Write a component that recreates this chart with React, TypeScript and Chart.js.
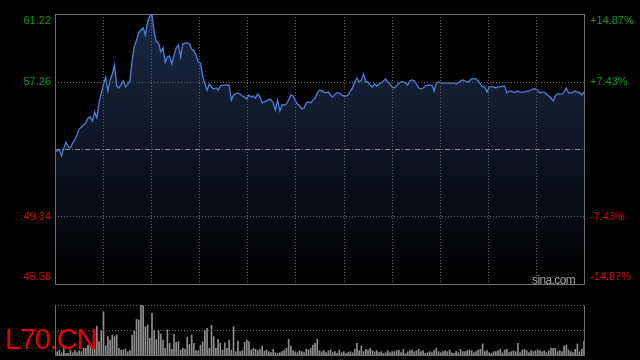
import React, { useEffect, useRef } from 'react';
import { Chart, registerables } from 'chart.js';

Chart.register(...registerables);

// ---- data ----
const PRICE_TICKS = [45.38, 49.34, 53.3, 57.26, 61.22];
const PRICE_LABELS = ['45.38', '49.34', '', '57.26', '61.22'];
const PCT_LABELS = ['-14.87%', '-7.43%', '', '+7.43%', '+14.87%'];
const PREV_CLOSE = 53.3;
const GRID_DIVISIONS = 11;
const SYMBOL = 'L70.CN';
const WATERMARK = 'sina.com';

const prices = [
  53.18, 53.18, 53.24, 52.89, 53.36, 53.71, 53.42, 53.36, 53.65, 53.83,
  54.12, 54.47, 54.59, 54.71, 54.83, 55.12, 55.18, 54.94, 55.47, 55.12,
  56.0, 56.59, 57.11, 57.52, 56.7, 57.35, 57.7, 58.23, 56.99, 56.88,
  57.11, 57.29, 56.94, 57.11, 57.29, 58.52, 59.34, 59.69, 60.11, 60.28,
  60.4, 59.99, 60.75, 61.1, 61.16, 60.16, 59.58, 59.52, 58.99, 59.23,
  58.4, 58.7, 58.76, 58.29, 58.81, 59.23, 59.4, 58.7, 59.46, 59.52,
  59.52, 59.46, 59.17, 59.05, 58.81, 58.4, 58.35, 57.58, 57.11, 56.76,
  57.11, 56.94, 56.82, 56.88, 56.76, 56.99, 57.05, 57.05, 57.05, 57.05,
  56.17, 56.47, 56.53, 56.59, 56.53, 56.41, 56.35, 56.23, 56.47, 56.35,
  56.41, 56.29, 56.53, 56.35, 56.0, 56.06, 56.12, 56.23, 56.17, 56.0,
  55.59, 56.17, 55.53, 55.88, 55.88, 55.94, 56.17, 56.47, 56.41, 56.12,
  55.94, 55.82, 55.65, 55.71, 56.0, 56.06, 56.0, 56.17, 56.29, 56.59,
  56.76, 56.7, 56.64, 56.59, 56.64, 56.47, 56.35, 56.53, 56.59, 56.59,
  56.47, 56.41, 56.41, 56.47, 56.7, 56.88, 57.23, 57.47, 57.23, 57.35,
  57.7, 57.23, 57.23, 57.05, 56.94, 57.11, 56.99, 57.11, 57.17, 57.29,
  57.41, 57.23, 57.11, 56.94, 56.88, 56.99, 57.17, 57.23, 57.23, 57.17,
  57.05, 57.29, 57.35, 57.29, 57.11, 56.88, 56.82, 56.88, 56.99, 57.05,
  57.05, 57.05, 56.7, 57.17, 57.23, 57.17, 57.17, 57.17, 57.17, 57.17,
  57.17, 57.17, 57.11, 57.17, 57.29, 57.35, 57.29, 57.23, 57.29, 57.41,
  57.41, 57.41, 57.29, 57.11, 56.94, 56.94, 56.64, 56.94, 56.94, 56.94,
  56.88, 56.94, 56.94, 56.99, 56.99, 56.59, 56.7, 56.7, 56.64, 56.64,
  56.7, 56.64, 56.64, 56.64, 56.7, 56.7, 56.76, 56.82, 56.82, 56.76,
  56.59, 56.64, 56.64, 56.53, 56.41, 56.29, 56.12, 56.41, 56.53, 56.53,
  56.53, 56.64, 56.88, 56.59, 56.59, 56.64, 56.7, 56.64, 56.59, 56.47,
  56.64,
];

const volumes = [
  500, 330, 500, 230, 830, 170, 170, 500, 230, 430, 230, 430, 330, 670, 670, 1000, 1000, 670, 670, 2900, 1330,
  2430, 4330, 930, 1830, 1500, 2000, 1830, 2000, 670, 500, 500, 600, 330, 430, 2000, 2400, 3570, 3500, 5000, 4900,
  2800, 3000, 1670, 4170, 2500, 1570, 2430, 2100, 1500, 670, 2500, 1170, 570, 2070, 1270, 1330, 500, 670, 600, 1770,
  1070, 2000, 1170, 430, 430, 1000, 1330, 2430, 2670, 670, 2970, 1830, 670, 1570, 1170, 500, 1230, 670, 1500, 500,
  2830, 330, 1400, 330, 430, 1270, 1500, 1330, 500, 670, 570, 430, 570, 900, 400, 500, 330, 230, 570, 230,
  170, 230, 330, 500, 670, 1570, 900, 430, 330, 230, 430, 330, 230, 600, 500, 670, 1000, 1170, 1570, 430,
  330, 430, 230, 430, 500, 230, 330, 170, 500, 230, 330, 170, 230, 330, 230, 570, 1170, 430, 900, 330,
  570, 500, 670, 430, 330, 430, 230, 330, 170, 230, 430, 230, 330, 330, 430, 500, 230, 570, 170, 330,
  430, 500, 330, 430, 570, 330, 430, 170, 230, 330, 230, 430, 670, 330, 230, 330, 430, 330, 500, 230,
  170, 330, 230, 570, 330, 330, 430, 500, 430, 230, 330, 500, 570, 1100, 330, 430, 230, 170, 330, 330,
  430, 570, 230, 500, 570, 230, 330, 430, 330, 1170, 230, 500, 570, 430, 230, 430, 330, 430, 500, 430,
  330, 430, 230, 430, 670, 670, 670, 330, 430, 330, 900, 1000, 500, 330, 230, 570, 1100, 330, 570, 1400,
];
const VOLUME_MAX = 5000;

// ---- styles ----
const FONT = "'Liberation Sans', Arial, sans-serif";
const UP = '#119a11';
const DOWN = '#dd0000';
const FRAME = '#707070';
const GRID = '#666666';

function crisp(v: number) {
  return Math.round(v) + 0.5;
}

const priceFramePlugin = {
  id: 'priceFrame',
  afterDatasetsDraw(chart: any) {
    const { ctx, chartArea: a, scales } = chart;
    const xs = scales.x;
    const ys = scales.y;
    ctx.save();
    ctx.lineWidth = 1;
    ctx.strokeStyle = GRID;
    ctx.setLineDash([1, 2]);
    for (let k = 1; k < GRID_DIVISIONS; k++) {
      const x = crisp(xs.getPixelForValue((k * (prices.length - 1)) / GRID_DIVISIONS));
      ctx.beginPath();
      ctx.moveTo(x, a.top);
      ctx.lineTo(x, a.bottom);
      ctx.stroke();
    }
    PRICE_TICKS.forEach((v) => {
      if (v === PRICE_TICKS[0] || v === PRICE_TICKS[PRICE_TICKS.length - 1]) return;
      const y = crisp(ys.getPixelForValue(v));
      ctx.beginPath();
      if (v === PREV_CLOSE) {
        ctx.strokeStyle = '#8c8c8c';
        ctx.setLineDash([5, 2, 1, 2]);
      } else {
        ctx.strokeStyle = GRID;
        ctx.setLineDash([1, 2]);
      }
      ctx.moveTo(a.left, y);
      ctx.lineTo(a.right, y);
      ctx.stroke();
    });
    ctx.setLineDash([]);
    ctx.strokeStyle = FRAME;
    ctx.strokeRect(crisp(a.left), crisp(a.top), Math.round(a.right - a.left), Math.round(a.bottom - a.top));
    ctx.restore();
  },
};

const volumeFramePlugin = {
  id: 'volumeFrame',
  afterDatasetsDraw(chart: any) {
    const { ctx, chartArea: a, scales } = chart;
    const ys = scales.y;
    ctx.save();
    ctx.lineWidth = 1;
    ctx.strokeStyle = GRID;
    ctx.setLineDash([1, 2]);
    [VOLUME_MAX, VOLUME_MAX / 2].forEach((v) => {
      const y = crisp(ys.getPixelForValue(v));
      ctx.beginPath();
      ctx.moveTo(a.left, y);
      ctx.lineTo(a.right, y);
      ctx.stroke();
    });
    ctx.setLineDash([]);
    ctx.strokeStyle = FRAME;
    const l = crisp(a.left);
    const r = crisp(a.right);
    const t = crisp(a.top);
    const b = crisp(a.bottom);
    ctx.beginPath();
    ctx.moveTo(l, t);
    ctx.lineTo(l, b);
    ctx.lineTo(r, b);
    ctx.lineTo(r, t);
    ctx.stroke();
    ctx.restore();
  },
};

function edgeLabel(text: string, index: number) {
  if (index === PRICE_TICKS.length - 1) return ['', text];
  if (index === 0) return [text, ''];
  return text;
}

// price canvas is placed so that its plot area spans page y 14..284
const PRICE_PAD = 24;
const PRICE_TOP = 14 - PRICE_PAD;
const PRICE_HEIGHT = 270 + PRICE_PAD * 2;

export default function App() {
  const priceRef = useRef<HTMLCanvasElement>(null);
  const volRef = useRef<HTMLCanvasElement>(null);

  useEffect(() => {
    const tickColor = (c: any) => (c.tick && c.tick.value > PREV_CLOSE ? UP : DOWN);
    const priceChart = new Chart(priceRef.current as HTMLCanvasElement, {
      type: 'line',
      data: {
        datasets: [
          {
            data: prices.map((p, i) => ({ x: i, y: p })),
            borderColor: '#4a80dd',
            borderWidth: 1.3,
            pointRadius: 0,
            tension: 0,
            fill: 'start',
            backgroundColor: (c: any) => {
              const area = c.chart.chartArea;
              if (!area) return 'rgba(0,0,0,0)';
              const g = c.chart.ctx.createLinearGradient(0, area.top, 0, area.bottom);
              g.addColorStop(0, 'rgb(26,41,70)');
              g.addColorStop(1, 'rgb(0,0,0)');
              return g;
            },
          },
        ],
      },
      options: {
        animation: false,
        responsive: false,
        maintainAspectRatio: false,
        layout: { padding: { top: PRICE_PAD, bottom: PRICE_PAD, left: 0, right: 0 } },
        plugins: { legend: { display: false }, tooltip: { enabled: false } },
        scales: {
          x: { type: 'linear', min: 0, max: prices.length - 1, display: false },
          y: {
            type: 'linear',
            position: 'left',
            min: PRICE_TICKS[0],
            max: PRICE_TICKS[PRICE_TICKS.length - 1],
            afterBuildTicks: (s: any) => {
              s.ticks = PRICE_TICKS.map((v) => ({ value: v }));
            },
            afterFit: (s: any) => {
              s.width = 55;
            },
            grid: { display: false, drawTicks: false },
            border: { display: false },
            ticks: {
              autoSkip: false,
              padding: 4,
              color: tickColor,
              font: { family: FONT, size: 11 },
              callback: (_v: any, i: number) => edgeLabel(PRICE_LABELS[i], i),
            },
          },
          yr: {
            type: 'linear',
            position: 'right',
            min: PRICE_TICKS[0],
            max: PRICE_TICKS[PRICE_TICKS.length - 1],
            afterBuildTicks: (s: any) => {
              s.ticks = PRICE_TICKS.map((v) => ({ value: v }));
            },
            afterFit: (s: any) => {
              s.width = 56;
            },
            grid: { display: false, drawTicks: false },
            border: { display: false },
            ticks: {
              autoSkip: false,
              padding: 6,
              color: tickColor,
              font: { family: FONT, size: 11 },
              callback: (_v: any, i: number) => edgeLabel(PCT_LABELS[i], i),
            },
          },
        },
      } as any,
      plugins: [priceFramePlugin],
    });

    const volChart = new Chart(volRef.current as HTMLCanvasElement, {
      type: 'bar',
      data: {
        datasets: [
          {
            data: volumes.map((v, i) => ({ x: i, y: v })),
            backgroundColor: '#8e8e8e',
            borderWidth: 0,
            barThickness: 1,
          },
        ],
      },
      options: {
        animation: false,
        responsive: false,
        maintainAspectRatio: false,
        layout: { padding: { top: 9, bottom: 5, left: 55, right: 56 } },
        plugins: { legend: { display: false }, tooltip: { enabled: false } },
        scales: {
          x: { type: 'linear', min: 0, max: volumes.length - 1, offset: false, display: false },
          y: { type: 'linear', min: 0, max: VOLUME_MAX, display: false },
        },
      } as any,
      plugins: [volumeFramePlugin],
    });

    return () => {
      priceChart.destroy();
      volChart.destroy();
    };
  }, []);

  return (
    <div
      style={{
        position: 'fixed',
        left: 0,
        top: 0,
        width: 640,
        height: 360,
        background: '#000',
        overflow: 'hidden',
      }}
    >
      <canvas
        ref={priceRef}
        width={640}
        height={PRICE_HEIGHT}
        style={{ position: 'absolute', left: 0, top: PRICE_TOP }}
      />
      <canvas ref={volRef} width={640} height={64} style={{ position: 'absolute', left: 0, top: 296 }} />
      <div
        style={{
          position: 'absolute',
          left: 532,
          top: 274,
          fontFamily: FONT,
          fontSize: 12,
          lineHeight: '12px',
          letterSpacing: '-0.6px',
          color: '#a0a0a0',
          whiteSpace: 'nowrap',
        }}
      >
        {WATERMARK}
      </div>
      <div
        style={{
          position: 'absolute',
          left: 5,
          top: 325,
          fontFamily: FONT,
          fontSize: 29,
          lineHeight: '29px',
          letterSpacing: '-1.2px',
          color: '#e60000',
          whiteSpace: 'nowrap',
        }}
      >
        {SYMBOL}
      </div>
    </div>
  );
}
